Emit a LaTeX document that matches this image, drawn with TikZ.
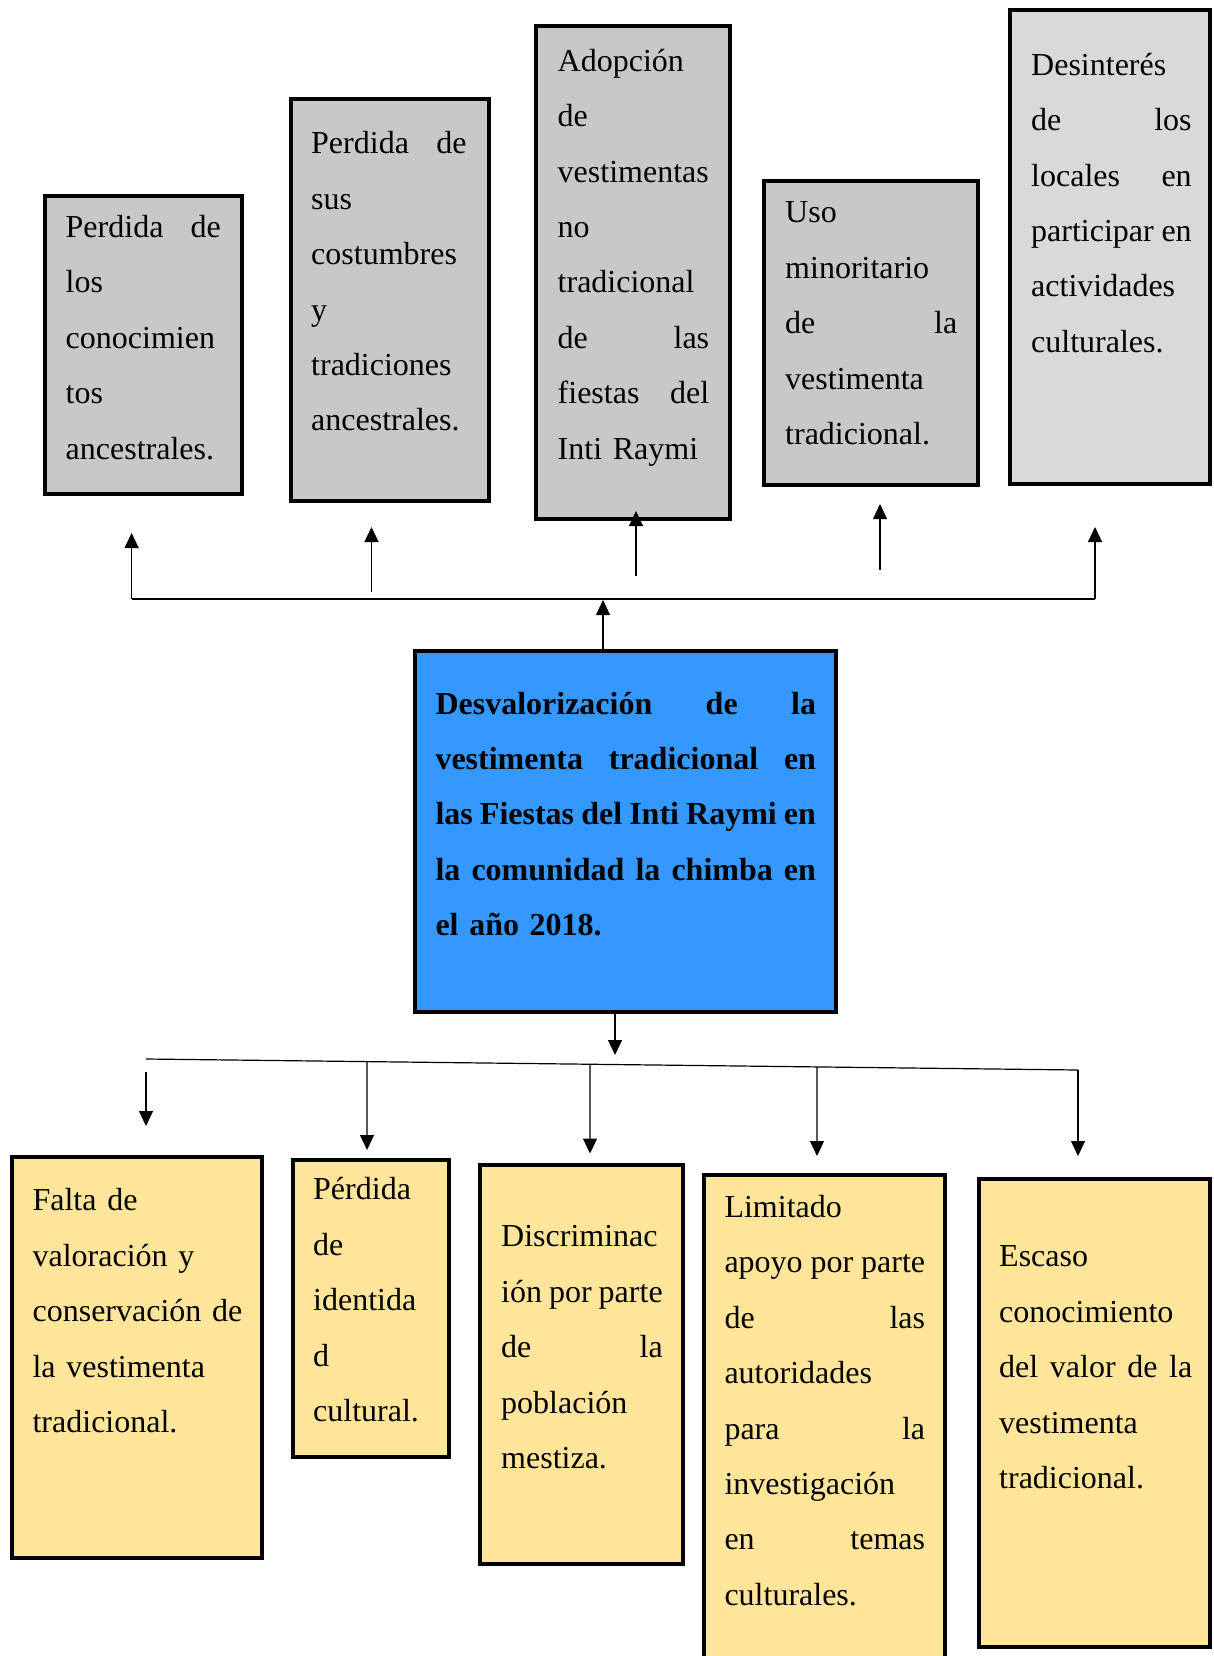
\documentclass[tikz,border=0pt]{standalone}
\usepackage{fontspec}
\setmainfont{Liberation Serif}
\usetikzlibrary{arrows.meta,calc}
\definecolor{grayA}{RGB}{200,200,200}
\definecolor{grayB}{RGB}{217,217,217}
\definecolor{blueC}{RGB}{51,153,255}
\definecolor{yellowE}{RGB}{255,229,153}
\newlength\jw
\newcommand\jline[1]{\makebox[\jw][s]{\spaceskip=0.25em plus 3em minus 0.1em\relax #1}}
\newcommand\jtight[1]{\makebox[\jw][s]{\spaceskip=0.1em plus 1em\relax #1}}
\newcommand\fstr{\rule{0pt}{30pt}}
\begin{document}
\begin{tikzpicture}[x=1pt,y=-1pt,
  box/.style={draw=black, line width=4pt, inner sep=0pt, outer sep=0pt},
  gbox/.style={box, fill=grayA},
  lbox/.style={box, fill=grayB},
  bbox/.style={box, fill=blueC},
  ybox/.style={box, fill=yellowE},
  txt/.style={anchor=north west, inner sep=0pt, align=left,
    font=\fontsize{32}{55.45}\selectfont},
  jw/.style={text width=#1pt+80pt,
    execute at begin node={\parindent=0pt\relax\setlength{\jw}{#1pt}}},
  conn/.style={line width=1.2pt, draw=black},
  arr/.style={conn, -{Triangle[length=15pt,width=14pt]}}
]
\useasboundingbox (0,0) rectangle (1213,1656);

% top boxes
\node[gbox, minimum width=197, minimum height=298] (t1) at (143.5,345) {};
\node[gbox, minimum width=198, minimum height=402] (t2) at (389.5,300) {};
\node[gbox, minimum width=194, minimum height=492.5] (t3) at (633,272.75) {};
\node[gbox, minimum width=214, minimum height=304] (t4) at (871,333) {};
\node[lbox, minimum width=200, minimum height=474] (t5) at (1110,247) {};

\node[txt, jw=155] (tx1) at (65.5,207)
  {\fstr\jline{Perdida de}\\los\\conocimien\\tos\\ancestrales.};
\node[txt, jw=155.5] (tx2) at (311,123.5)
  {\fstr\jline{Perdida de}\\sus\\costumbres\\y\\tradiciones\\ancestrales.};
\node[txt, jw=151.5] (tx3) at (557.5,41)
  {\fstr Adopción\\de\\vestimentas\\no\\tradicional\\\jline{de las}\\\jline{fiestas del}\\Inti Raymi};
\node[txt, jw=172] (tx4) at (785,192.5)
  {\fstr Uso\\minoritario\\\jline{de la}\\vestimenta\\tradicional.};
\node[txt, jw=160.5] (tx5) at (1031,45)
  {\fstr Desinterés\\\jline{de los}\\\jline{locales en}\\\jline{participar en}\\actividades\\culturales.};

% central box
\node[bbox, minimum width=421, minimum height=361] (blue) at (625.5,831.5) {};
\node[txt, jw=380.5, font=\fontsize{32}{55.3}\selectfont\bfseries] (bx) at (435.3,684)
  {\fstr\jline{Desvalorización de la}\\\jline{vestimenta tradicional en}\\\jtight{las Fiestas del Inti Raymi en}\\\jline{la comunidad la chimba en}\\el año 2018.};

% bottom boxes
\node[ybox, minimum width=250, minimum height=401] (b1) at (137,1357.5) {};
\node[ybox, minimum width=156, minimum height=297] (b2) at (371,1308.5) {};
\node[ybox, minimum width=203, minimum height=399] (b3) at (581.5,1364.5) {};
\node[ybox, minimum width=241, minimum height=503] (b4) at (824.5,1426.5) {};
\node[ybox, minimum width=231, minimum height=468] (b5) at (1094.5,1413) {};

\node[txt, jw=206] (bx1) at (32.4,1180.5)
  {\fstr Falta de\\valoración y\\conservación de\\la vestimenta\\tradicional.};
\node[txt, jw=120] (bx2) at (313,1169.5)
  {\fstr Pérdida\\de\\identida\\d\\cultural.};
\node[txt, jw=161.5] (bx3) at (501,1216.5)
  {\fstr Discriminac\\\jline{ión por parte}\\\jline{de la}\\población\\mestiza.};
\node[txt, jw=200.6] (bx4) at (724.3,1187)
  {\fstr Limitado\\\jline{apoyo por parte}\\\jline{de las}\\autoridades\\\jline{para la}\\investigación\\\jline{en temas}\\culturales.};
\node[txt, jw=193] (bx5) at (999,1236.5)
  {\fstr Escaso\\conocimiento\\\jline{del valor de la}\\vestimenta\\tradicional.};

% top connectors
\coordinate (hl) at (131.6,599);
\coordinate (hr) at (1095,599);
\draw[conn] (hl) -- (hr);
\coordinate (u1) at (131.6,533);
\coordinate (s2) at (371.5,592);  \coordinate (u2) at (371.5,527);
\coordinate (s3) at (636,576);    \coordinate (u3) at (636,511);
\coordinate (s4) at (880,570);    \coordinate (u4) at (880,504);
\coordinate (u5) at (1095,527);
\draw[arr] (hl) -- (u1);
\draw[arr] (s2) -- (u2);
\draw[arr] (s3) -- (u3);
\draw[arr] (s4) -- (u4);
\draw[arr] (hr) -- (u5);
\coordinate (cu) at (603,600);
\draw[arr] (blue.north -| cu) -- (cu);

% bottom connectors
\coordinate (cd) at (615,1055);
\draw[arr] (blue.south -| cd) -- (cd);
\coordinate (bl) at (146,1059);
\coordinate (br) at (1078,1070);
\draw[conn] (bl) -- (br);
\coordinate (s1b) at (146,1072); \coordinate (d1) at (146,1126);
\coordinate (d2) at (367,1150);
\coordinate (d3) at (590,1153.5);
\coordinate (d4) at (817,1156);
\coordinate (d5) at (1078,1156);
\draw[arr] (s1b) -- (d1);
\draw[arr] ($(bl)!0.2371!(br)$) -- (d2);
\draw[arr] ($(bl)!0.4764!(br)$) -- (d3);
\draw[arr] ($(bl)!0.7200!(br)$) -- (d4);
\draw[arr] (br) -- (d5);
\end{tikzpicture}
\end{document}
